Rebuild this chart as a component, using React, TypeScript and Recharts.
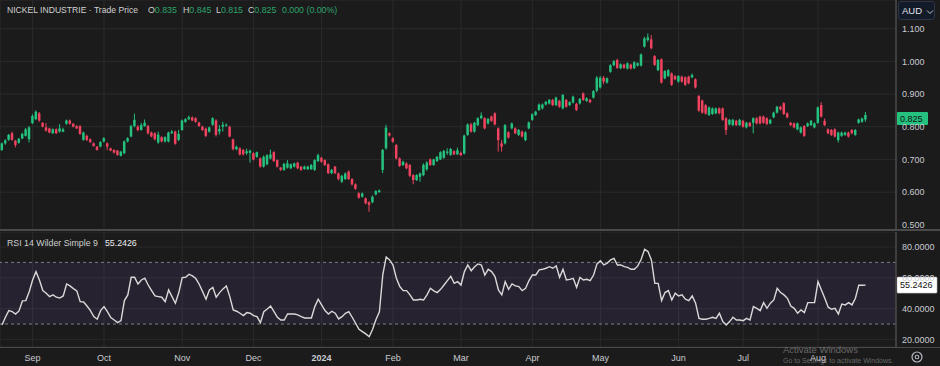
import React from "react";
import {
  ComposedChart,
  Bar,
  Line,
  XAxis,
  YAxis,
  CartesianGrid,
  ReferenceLine,
  ReferenceArea,
} from "recharts";

// ---------- data ----------
// daily candles [open, high, low, close], Aug 2023 – Aug 2024
const ohlc: [number, number, number, number][] = [
  [0.729, 0.752, 0.726, 0.749], [0.749, 0.762, 0.745, 0.758], [0.76, 0.778, 0.757, 0.775], [0.78, 0.785, 0.757, 0.76],
  [0.757, 0.76, 0.737, 0.744], [0.751, 0.766, 0.748, 0.763], [0.764, 0.782, 0.762, 0.778], [0.772, 0.796, 0.77, 0.792],
  [0.762, 0.802, 0.752, 0.798], [0.811, 0.838, 0.808, 0.833], [0.823, 0.85, 0.82, 0.846], [0.841, 0.845, 0.815, 0.819],
  [0.812, 0.814, 0.798, 0.8], [0.798, 0.811, 0.785, 0.788], [0.795, 0.797, 0.78, 0.782], [0.78, 0.795, 0.778, 0.792],
  [0.792, 0.795, 0.778, 0.78], [0.785, 0.808, 0.782, 0.795], [0.785, 0.797, 0.783, 0.792], [0.809, 0.822, 0.806, 0.819],
  [0.819, 0.822, 0.806, 0.809], [0.809, 0.811, 0.798, 0.8], [0.802, 0.805, 0.793, 0.795], [0.802, 0.805, 0.775, 0.778],
  [0.76, 0.785, 0.757, 0.782], [0.772, 0.776, 0.756, 0.76], [0.762, 0.764, 0.75, 0.753], [0.749, 0.752, 0.739, 0.741],
  [0.739, 0.741, 0.727, 0.729], [0.739, 0.756, 0.737, 0.753], [0.755, 0.768, 0.752, 0.765], [0.749, 0.752, 0.729, 0.739],
  [0.734, 0.736, 0.725, 0.727], [0.729, 0.731, 0.718, 0.721], [0.727, 0.729, 0.711, 0.714], [0.711, 0.726, 0.709, 0.724],
  [0.719, 0.758, 0.716, 0.755], [0.755, 0.768, 0.752, 0.765], [0.77, 0.806, 0.768, 0.802], [0.802, 0.84, 0.798, 0.821],
  [0.8, 0.805, 0.786, 0.79], [0.79, 0.812, 0.788, 0.805], [0.802, 0.822, 0.8, 0.812], [0.802, 0.806, 0.776, 0.78],
  [0.782, 0.785, 0.768, 0.77], [0.78, 0.783, 0.758, 0.762], [0.752, 0.785, 0.748, 0.776], [0.768, 0.771, 0.752, 0.755],
  [0.755, 0.771, 0.752, 0.768], [0.755, 0.785, 0.752, 0.782], [0.78, 0.79, 0.778, 0.785], [0.785, 0.788, 0.745, 0.748],
  [0.76, 0.79, 0.756, 0.778], [0.79, 0.822, 0.788, 0.819], [0.815, 0.826, 0.812, 0.823], [0.823, 0.834, 0.82, 0.829],
  [0.828, 0.832, 0.817, 0.819], [0.826, 0.829, 0.812, 0.815], [0.813, 0.815, 0.8, 0.802], [0.8, 0.803, 0.787, 0.79],
  [0.794, 0.797, 0.768, 0.772], [0.785, 0.8, 0.782, 0.798], [0.806, 0.829, 0.803, 0.826], [0.819, 0.823, 0.77, 0.775],
  [0.785, 0.805, 0.776, 0.793], [0.8, 0.815, 0.785, 0.806], [0.803, 0.81, 0.8, 0.806], [0.8, 0.803, 0.768, 0.77],
  [0.761, 0.764, 0.728, 0.731], [0.731, 0.742, 0.728, 0.739], [0.734, 0.737, 0.712, 0.715], [0.729, 0.732, 0.712, 0.716],
  [0.719, 0.733, 0.714, 0.725], [0.72, 0.73, 0.69, 0.727], [0.719, 0.722, 0.697, 0.7], [0.708, 0.724, 0.705, 0.722],
  [0.703, 0.706, 0.675, 0.678], [0.678, 0.712, 0.675, 0.708], [0.685, 0.716, 0.682, 0.713], [0.703, 0.73, 0.7, 0.715],
  [0.722, 0.725, 0.692, 0.695], [0.698, 0.7, 0.675, 0.678], [0.675, 0.677, 0.665, 0.668], [0.668, 0.69, 0.665, 0.686],
  [0.675, 0.698, 0.672, 0.688], [0.673, 0.688, 0.67, 0.685], [0.678, 0.69, 0.675, 0.688], [0.69, 0.693, 0.67, 0.673],
  [0.678, 0.68, 0.665, 0.668], [0.671, 0.681, 0.668, 0.678], [0.67, 0.681, 0.668, 0.678], [0.67, 0.686, 0.668, 0.683],
  [0.668, 0.701, 0.665, 0.698], [0.695, 0.718, 0.692, 0.713], [0.705, 0.708, 0.69, 0.693], [0.698, 0.7, 0.68, 0.683],
  [0.685, 0.688, 0.655, 0.658], [0.658, 0.671, 0.655, 0.668], [0.678, 0.68, 0.655, 0.658], [0.657, 0.66, 0.636, 0.64],
  [0.632, 0.653, 0.628, 0.65], [0.64, 0.66, 0.637, 0.657], [0.663, 0.666, 0.637, 0.64], [0.64, 0.643, 0.62, 0.624],
  [0.624, 0.627, 0.607, 0.61], [0.596, 0.6, 0.58, 0.583], [0.586, 0.599, 0.583, 0.596], [0.581, 0.584, 0.563, 0.566],
  [0.569, 0.572, 0.54, 0.561], [0.569, 0.59, 0.566, 0.586], [0.593, 0.606, 0.59, 0.603], [0.6, 0.608, 0.598, 0.605],
  [0.668, 0.732, 0.658, 0.729], [0.734, 0.806, 0.73, 0.797], [0.78, 0.783, 0.77, 0.773], [0.765, 0.768, 0.751, 0.754],
  [0.744, 0.747, 0.7, 0.703], [0.703, 0.706, 0.677, 0.68], [0.683, 0.696, 0.68, 0.693], [0.688, 0.691, 0.67, 0.673],
  [0.683, 0.686, 0.646, 0.65], [0.652, 0.655, 0.624, 0.637], [0.637, 0.655, 0.634, 0.652], [0.647, 0.66, 0.632, 0.657],
  [0.652, 0.688, 0.649, 0.683], [0.67, 0.695, 0.665, 0.69], [0.7, 0.703, 0.68, 0.683], [0.683, 0.702, 0.68, 0.7],
  [0.695, 0.711, 0.692, 0.708], [0.7, 0.725, 0.698, 0.722], [0.705, 0.729, 0.702, 0.726], [0.72, 0.734, 0.714, 0.724],
  [0.714, 0.735, 0.711, 0.732], [0.725, 0.728, 0.713, 0.716], [0.716, 0.736, 0.713, 0.728], [0.72, 0.724, 0.711, 0.713],
  [0.718, 0.776, 0.715, 0.773], [0.775, 0.81, 0.772, 0.807], [0.807, 0.812, 0.782, 0.785], [0.785, 0.815, 0.782, 0.812],
  [0.805, 0.829, 0.802, 0.826], [0.826, 0.844, 0.823, 0.834], [0.826, 0.829, 0.792, 0.795], [0.81, 0.827, 0.807, 0.824],
  [0.831, 0.834, 0.815, 0.818], [0.841, 0.844, 0.804, 0.807], [0.795, 0.798, 0.724, 0.759], [0.749, 0.76, 0.724, 0.739],
  [0.749, 0.808, 0.746, 0.805], [0.783, 0.786, 0.764, 0.767], [0.795, 0.813, 0.792, 0.81], [0.795, 0.798, 0.777, 0.78],
  [0.775, 0.793, 0.772, 0.79], [0.785, 0.788, 0.767, 0.77], [0.759, 0.786, 0.756, 0.783], [0.795, 0.816, 0.792, 0.813],
  [0.821, 0.841, 0.818, 0.838], [0.836, 0.849, 0.833, 0.846], [0.851, 0.871, 0.848, 0.868], [0.856, 0.871, 0.853, 0.868],
  [0.868, 0.879, 0.865, 0.876], [0.871, 0.885, 0.868, 0.882], [0.882, 0.885, 0.863, 0.866], [0.866, 0.892, 0.863, 0.889],
  [0.879, 0.882, 0.858, 0.861], [0.856, 0.9, 0.853, 0.897], [0.882, 0.885, 0.858, 0.861], [0.866, 0.878, 0.863, 0.875],
  [0.874, 0.895, 0.871, 0.892], [0.87, 0.873, 0.848, 0.851], [0.871, 0.888, 0.868, 0.885], [0.902, 0.905, 0.879, 0.882],
  [0.879, 0.89, 0.876, 0.887], [0.882, 0.885, 0.872, 0.875], [0.889, 0.912, 0.886, 0.909], [0.91, 0.955, 0.905, 0.95],
  [0.92, 0.955, 0.917, 0.95], [0.95, 0.955, 0.93, 0.938], [0.935, 0.951, 0.932, 0.948], [0.968, 0.991, 0.965, 0.988],
  [0.988, 1.004, 0.985, 1.0], [1.004, 1.008, 0.977, 0.98], [0.979, 0.994, 0.976, 0.991], [0.99, 0.993, 0.977, 0.98],
  [0.978, 0.997, 0.975, 0.994], [0.99, 0.993, 0.975, 0.978], [0.979, 1.0, 0.976, 0.997], [0.987, 0.997, 0.984, 0.994],
  [0.987, 1.024, 0.984, 1.021], [1.045, 1.075, 1.042, 1.07], [1.065, 1.085, 1.06, 1.073], [1.067, 1.08, 1.037, 1.04],
  [1.016, 1.019, 0.986, 0.989], [0.973, 1.007, 0.97, 1.004], [1.006, 1.009, 0.932, 0.935], [0.948, 0.973, 0.945, 0.97],
  [0.955, 0.976, 0.952, 0.973], [0.963, 0.966, 0.925, 0.928], [0.955, 0.958, 0.942, 0.945], [0.938, 0.958, 0.935, 0.955],
  [0.953, 0.956, 0.935, 0.938], [0.951, 0.954, 0.925, 0.928], [0.953, 0.956, 0.93, 0.933], [0.951, 0.963, 0.948, 0.958],
  [0.945, 0.948, 0.917, 0.92], [0.894, 0.897, 0.846, 0.849], [0.88, 0.883, 0.84, 0.843], [0.866, 0.869, 0.837, 0.84],
  [0.836, 0.862, 0.833, 0.859], [0.839, 0.859, 0.836, 0.856], [0.841, 0.859, 0.838, 0.856], [0.856, 0.859, 0.838, 0.841],
  [0.856, 0.859, 0.818, 0.821], [0.826, 0.829, 0.775, 0.79], [0.807, 0.824, 0.804, 0.821], [0.805, 0.824, 0.802, 0.821],
  [0.818, 0.821, 0.802, 0.805], [0.805, 0.824, 0.802, 0.821], [0.818, 0.821, 0.797, 0.8], [0.798, 0.815, 0.795, 0.812],
  [0.812, 0.815, 0.799, 0.802], [0.812, 0.829, 0.78, 0.826], [0.826, 0.829, 0.807, 0.81], [0.831, 0.834, 0.807, 0.81],
  [0.831, 0.834, 0.809, 0.812], [0.826, 0.829, 0.805, 0.808], [0.81, 0.824, 0.807, 0.821], [0.829, 0.846, 0.826, 0.843],
  [0.843, 0.864, 0.84, 0.861], [0.861, 0.864, 0.85, 0.853], [0.872, 0.875, 0.836, 0.839], [0.841, 0.844, 0.826, 0.829],
  [0.812, 0.815, 0.802, 0.805], [0.81, 0.813, 0.795, 0.798], [0.792, 0.813, 0.789, 0.81], [0.782, 0.801, 0.779, 0.798],
  [0.802, 0.805, 0.769, 0.772], [0.802, 0.813, 0.799, 0.81], [0.805, 0.821, 0.802, 0.818], [0.798, 0.813, 0.795, 0.81],
  [0.812, 0.862, 0.809, 0.859], [0.866, 0.875, 0.828, 0.831], [0.818, 0.825, 0.802, 0.805], [0.792, 0.795, 0.777, 0.78],
  [0.79, 0.793, 0.772, 0.775], [0.792, 0.795, 0.767, 0.77], [0.759, 0.785, 0.752, 0.782], [0.772, 0.785, 0.769, 0.782],
  [0.775, 0.785, 0.772, 0.782], [0.782, 0.785, 0.767, 0.77], [0.79, 0.793, 0.777, 0.78], [0.775, 0.793, 0.772, 0.79],
  [0.812, 0.825, 0.809, 0.822], [0.815, 0.828, 0.812, 0.825], [0.822, 0.845, 0.815, 0.836],
];

// RSI 14 (Wilder) value for each candle
const rsi: number[] = [
  29.4, 34.4, 38.7, 38.0, 36.5, 38.5, 45.0, 45.2, 51.0, 58.6,
  64.0, 58.6, 51.7, 50.0, 47.8, 48.9, 47.4, 46.9, 48.2, 56.0,
  54.7, 53.0, 51.5, 44.5, 44.3, 41.7, 38.7, 34.8, 33.1, 38.7,
  41.3, 38.0, 34.2, 32.6, 30.9, 32.2, 45.2, 48.9, 60.3, 60.3,
  56.0, 58.6, 59.7, 55.3, 51.7, 48.2, 47.8, 47.4, 44.5, 52.1,
  47.8, 43.5, 50.4, 60.1, 60.3, 62.3, 61.2, 59.5, 55.8, 51.0,
  46.1, 52.1, 53.8, 47.4, 50.4, 52.8, 54.7, 47.8, 39.1, 38.3,
  37.0, 35.5, 37.4, 37.0, 35.5, 34.8, 30.9, 38.0, 39.8, 41.7,
  38.0, 34.4, 32.6, 32.6, 36.5, 36.5, 36.5, 35.9, 34.8, 33.9,
  33.9, 33.9, 41.3, 46.1, 42.4, 38.7, 36.5, 38.3, 37.0, 33.3,
  34.8, 37.0, 38.0, 34.4, 30.5, 26.6, 25.1, 23.6, 21.8, 26.6,
  33.0, 38.0, 62.0, 73.5, 71.6, 68.3, 59.7, 54.3, 51.7, 51.7,
  48.9, 45.6, 45.6, 46.1, 45.6, 48.9, 53.2, 51.5, 50.4, 52.5,
  55.3, 58.2, 61.0, 56.4, 57.5, 55.3, 64.0, 68.3, 64.6, 67.2,
  69.0, 68.3, 61.8, 65.5, 64.0, 60.8, 52.1, 48.9, 57.5, 52.5,
  56.0, 54.7, 54.3, 51.7, 53.2, 58.2, 61.8, 61.8, 65.1, 65.5,
  66.2, 67.2, 66.2, 67.7, 60.3, 65.5, 58.6, 59.0, 59.7, 53.8,
  60.3, 58.6, 59.0, 58.2, 61.8, 69.0, 71.1, 68.3, 69.4, 71.6,
  72.6, 68.3, 68.3, 67.2, 66.8, 65.5, 65.5, 67.7, 72.0, 78.5,
  77.0, 71.6, 56.4, 56.4, 45.2, 50.4, 51.7, 45.6, 50.0, 48.2,
  48.9, 46.1, 45.2, 48.2, 43.5, 33.7, 33.1, 33.1, 33.7, 34.4,
  33.7, 37.0, 31.6, 29.4, 31.6, 34.4, 32.6, 32.6, 32.2, 33.7,
  32.6, 41.3, 40.2, 38.7, 43.9, 40.2, 43.5, 45.6, 53.2, 50.4,
  48.9, 46.7, 41.7, 40.2, 37.0, 39.1, 37.4, 43.9, 43.9, 43.9,
  57.5, 52.1, 46.7, 40.9, 39.6, 40.2, 36.5, 43.0, 42.4, 43.9,
  42.4, 46.7, 55.2, 55.2, 55.2426,
];

const monthTickIndex = [9, 30, 53, 74, 94, 115, 135, 156, 176, 199, 218, 240];
const monthTickLabels = ["Sep", "Oct", "Nov", "Dec", "2024", "Feb", "Mar", "Apr", "May", "Jun", "Jul", "Aug"];
const priceTicks = [0.5, 0.6, 0.7, 0.8, 0.9, 1.0, 1.1];
const rsiTicks = [20, 40, 60, 80];
const LAST_PRICE = 0.825;
const LAST_RSI = 55.2426;
const headerName = "NICKEL INDUSTRIE";
const headerSource = "Trade Price";
const headerOHLC = { O: "0.835", H: "0.845", L: "0.815", C: "0.825" };
const headerChange = "0.000 (0.00%)";
const rsiTitle = "RSI 14 Wilder Simple 9";

// ---------- styling ----------
const BG = "#1b1b1b";
const GRID = "#2a2a2a";
const UP = "#25c17f";
const DOWN = "#f0435f";
const AXIS_TXT = "#c9cbd1";
const SEP = "#4a4a4a";
const FONT = "'Liberation Sans', Arial, sans-serif";
const X_DOMAIN: [number, number] = [-0.59, 262.94];

const priceData = ohlc.map(([o, h, l, c], i) => ({ i, o, h, l, c, range: [l, h] }));
const rsiData = rsi.map((v, i) => ({ i, rsi: v }));

const Candle = (props: any) => {
  const { x, y, width, height, payload } = props;
  if (payload == null || x == null) return null;
  const top = Math.min(y, y + height);
  const hh = Math.abs(height);
  const span = payload.h - payload.l || 1;
  const py = (v: number) => top + ((payload.h - v) / span) * hh;
  const cx = x + width / 2;
  const up = payload.c >= payload.o;
  const color = up ? UP : DOWN;
  const bTop = py(Math.max(payload.o, payload.c));
  const bBot = py(Math.min(payload.o, payload.c));
  return (
    <g>
      <rect x={cx - 0.5} y={top} width={1} height={Math.max(1, hh)} fill={color} />
      <rect x={cx - 1.25} y={bTop} width={2.5} height={Math.max(1, bBot - bTop)} fill={color} />
    </g>
  );
};

const PriceTag = (props: any) => {
  const vb = props.viewBox || {};
  const x = (vb.x ?? 0) + (vb.width ?? 0) + 1;
  const y = vb.y ?? 0;
  return (
    <g>
      <rect x={x} y={y - 6.5} width={31} height={13} fill={UP} rx={1} />
      <text x={x + 3} y={y + 3.3} fontSize={9} fill="#111" fontFamily={FONT}>
        {LAST_PRICE.toFixed(3)}
      </text>
    </g>
  );
};

const RsiTag = (props: any) => {
  const vb = props.viewBox || {};
  const x = (vb.x ?? 0) + (vb.width ?? 0) + 1;
  const y = vb.y ?? 0;
  return (
    <g>
      <rect x={x} y={y - 8} width={40} height={16} fill="#ffffff" stroke="#bbbbbb" strokeWidth={0.6} rx={1} />
      <text x={x + 3} y={y + 3.3} fontSize={9} fill="#111" fontFamily={FONT}>
        {LAST_RSI.toFixed(4)}
      </text>
    </g>
  );
};

const XTick = (props: any) => {
  const { x, y, payload } = props;
  const idx = monthTickIndex.indexOf(payload.value);
  const label = idx >= 0 ? monthTickLabels[idx] : "";
  return (
    <text
      x={x}
      y={y}
      dy="0.71em"
      textAnchor="middle"
      fontSize={9}
      fontFamily={FONT}
      fontWeight={label === "2024" ? 700 : 400}
      fill={AXIS_TXT}
    >
      {label}
    </text>
  );
};

export default function App() {
  return (
    <div
      style={{
        position: "absolute",
        left: 0,
        top: 0,
        width: 940,
        height: 366,
        background: BG,
        overflow: "hidden",
        fontFamily: FONT,
      }}
    >
      {/* price pane */}
      <div style={{ position: "absolute", left: 0, top: 0 }}>
        <ComposedChart width={940} height={230} data={priceData} margin={{ top: 0, right: 0, bottom: 0, left: 0 }}>
          <CartesianGrid stroke={GRID} strokeWidth={1} />
          <XAxis
            dataKey="i"
            type="number"
            domain={X_DOMAIN}
            allowDataOverflow
            ticks={monthTickIndex}
            hide
          />
          <YAxis
            orientation="right"
            width={44}
            domain={[0.4842, 1.1875]}
            allowDataOverflow
            ticks={priceTicks}
            tickFormatter={(v: number) => v.toFixed(3)}
            axisLine={{ stroke: SEP, strokeWidth: 1.5 }}
            tickLine={false}
            tickSize={4}
            tickMargin={2}
            tick={{ fill: AXIS_TXT, fontSize: 9, fontFamily: FONT }}
          />
          <Bar dataKey="range" shape={<Candle />} barSize={3} isAnimationActive={false} />
          <ReferenceLine y={LAST_PRICE} stroke="none" label={<PriceTag />} />
        </ComposedChart>
      </div>

      {/* RSI pane */}
      <div style={{ position: "absolute", left: 0, top: 232 }}>
        <ComposedChart width={940} height={134} data={rsiData} margin={{ top: 0, right: 0, bottom: 0, left: 0 }}>
          <CartesianGrid stroke={GRID} strokeWidth={1} />
          <ReferenceArea y1={30} y2={70} fill="#7e57c2" fillOpacity={0.12} stroke="none" />
          <ReferenceLine y={70} stroke="#7d7f88" strokeDasharray="3 3" />
          <ReferenceLine y={30} stroke="#7d7f88" strokeDasharray="3 3" />
          <XAxis
            dataKey="i"
            type="number"
            domain={X_DOMAIN}
            allowDataOverflow
            ticks={monthTickIndex}
            height={19}
            axisLine={false}
            tickLine={false}
            tickSize={4}
            tickMargin={4}
            tick={<XTick />}
          />
          <YAxis
            orientation="right"
            width={44}
            domain={[15.1, 89.7]}
            allowDataOverflow
            ticks={rsiTicks}
            tickFormatter={(v: number) => v.toFixed(4)}
            axisLine={{ stroke: SEP, strokeWidth: 1.5 }}
            tickLine={false}
            tickSize={4}
            tickMargin={2}
            tick={{ fill: AXIS_TXT, fontSize: 9, fontFamily: FONT }}
          />
          <Line
            dataKey="rsi"
            type="linear"
            stroke="#d9d9d9"
            strokeWidth={1.4}
            dot={false}
            isAnimationActive={false}
          />
          <ReferenceLine y={LAST_RSI} stroke="none" label={<RsiTag />} />
        </ComposedChart>
      </div>

      {/* pane separators */}
      <div style={{ position: "absolute", left: 0, top: 229, width: 940, height: 2, background: SEP }} />
      <div style={{ position: "absolute", left: 0, top: 346.5, width: 940, height: 1.5, background: SEP }} />

      {/* header legend */}
      <div style={{ position: "absolute", left: 7, top: 4, fontSize: 8.6, lineHeight: "12px", color: "#d0d0d0", whiteSpace: "nowrap" }}>
        {headerName} · {headerSource}
      </div>
      {(["O", "H", "L", "C"] as const).map((k, n) => (
        <div
          key={k}
          style={{
            position: "absolute",
            left: [148, 183, 216, 248][n],
            top: 4,
            fontSize: 8.8,
            lineHeight: "12px",
            whiteSpace: "nowrap",
          }}
        >
          <span style={{ color: "#d0d0d0" }}>{k}</span>
          <span style={{ color: "#2ba56c" }}>{headerOHLC[k]}</span>
        </div>
      ))}
      <div style={{ position: "absolute", left: 282, top: 4, fontSize: 8.8, lineHeight: "12px", color: "#2ba56c", whiteSpace: "nowrap" }}>
        {headerChange}
      </div>

      {/* currency selector */}
      <div
        style={{
          position: "absolute",
          left: 898,
          top: 1,
          width: 37,
          height: 19,
          background: "#131a28",
          border: "1px solid #2c3547",
          borderRadius: 3,
          boxSizing: "border-box",
        }}
      >
        <span style={{ position: "absolute", left: 3, top: 3, fontSize: 9.5, lineHeight: "12px", color: "#e0e3eb" }}>AUD</span>
        <svg width={8} height={6} style={{ position: "absolute", left: 27, top: 7 }}>
          <polyline points="1,1.5 4,4.5 7,1.5" fill="none" stroke="#c0c4cc" strokeWidth={1} />
        </svg>
      </div>

      {/* RSI legend */}
      <div style={{ position: "absolute", left: 7, top: 237, fontSize: 8.8, lineHeight: "12px", color: "#d0d0d0", whiteSpace: "nowrap" }}>
        {rsiTitle}
        <span style={{ color: "#f0f0f0", marginLeft: 7 }}>{LAST_RSI.toFixed(4)}</span>
      </div>

      {/* settings gear */}
      <svg width={14} height={14} style={{ position: "absolute", left: 910, top: 350 }}>
        <circle cx={7} cy={7} r={5} fill="none" stroke="#b5b8c0" strokeWidth={1.2} />
        <circle cx={7} cy={7} r={1.8} fill="none" stroke="#b5b8c0" strokeWidth={1.1} />
      </svg>

      {/* OS watermark */}
      <div style={{ position: "absolute", left: 783, top: 344, fontSize: 9.5, lineHeight: "12px", color: "rgba(170,170,170,0.55)", whiteSpace: "nowrap" }}>
        Activate Windows
      </div>
      <div style={{ position: "absolute", left: 783, top: 356, fontSize: 7, lineHeight: "9px", color: "rgba(170,170,170,0.55)", whiteSpace: "nowrap" }}>
        Go to Settings to activate Windows.
      </div>
    </div>
  );
}
